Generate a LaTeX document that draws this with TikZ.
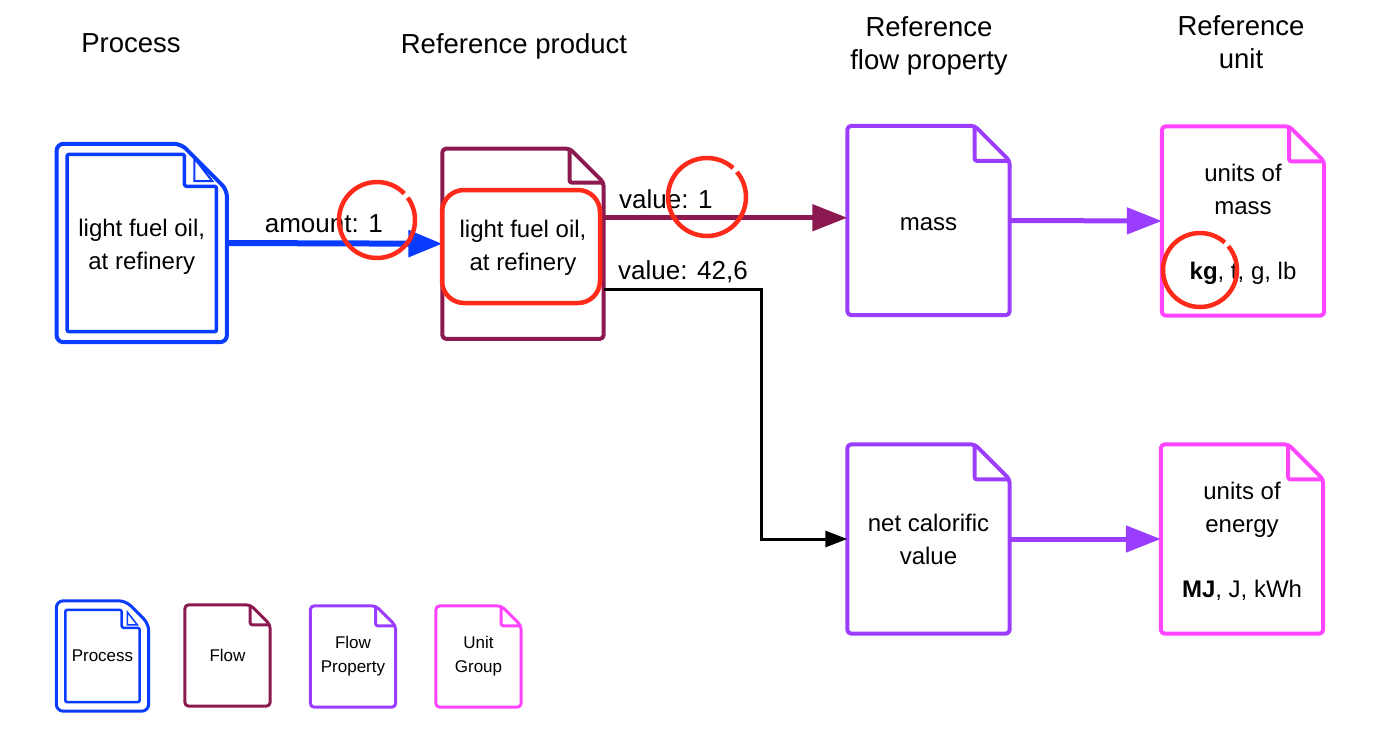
\documentclass[tikz,border=0pt]{standalone}
\usepackage{fontspec}
\setmainfont{Liberation Sans}
\usetikzlibrary{arrows.meta}

\definecolor{procblue}{HTML}{0A3CFF}
\definecolor{flowred}{HTML}{8C1A50}
\definecolor{propviolet}{HTML}{9B3DFF}
\definecolor{unitpink}{HTML}{FF45FF}
\definecolor{markred}{HTML}{FF2A1A}

\tikzset{
  page/.style={minimum width=162pt, minimum height=189pt, inner sep=0pt, align=center,
    font=\fontsize{24}{33}\selectfont},
  mini/.style={minimum width=85pt, minimum height=101pt, inner sep=0pt, align=center,
    font=\fontsize{17}{24}\selectfont},
  head/.style={align=center, font=\fontsize{27.5}{33}\selectfont},
  lbl/.style={inner sep=0pt, font=\fontsize{26}{30}\selectfont, text=black},
  redmark/.style={markred, line width=4.5pt},
}
% lowers the text of a page a little
\newcommand{\lift}[1]{\rule{0pt}{#1}}

% document outline round a node: node, colour, fold, line width
\newcommand{\docpage}[4]{%
  \draw[#2, line width=#4, rounded corners=4pt]
    (#1.north west) -- ([xshift=-#3]#1.north east) -- ([yshift=-#3]#1.north east)
    -- (#1.south east) -- (#1.south west) -- cycle;
  \draw[#2, line width=#4, rounded corners=2pt]
    ([xshift=-#3]#1.north east) -- ([xshift=-#3,yshift=-#3]#1.north east) -- ([yshift=-#3]#1.north east);
}
% double outline of a process: node, fold, inset, notch, outer width, inner width
\newcommand{\procpage}[6]{%
  \draw[procblue, line width=#5, rounded corners=7pt]
    (#1.north west) -- ([xshift=-#2pt]#1.north east) -- ([yshift=-#2pt]#1.north east)
    -- (#1.south east) -- (#1.south west) -- cycle;
  \draw[procblue, line width=#6, rounded corners=2pt]
    ([xshift=#3pt,yshift=-#3pt]#1.north west) -- ([xshift=-#3pt-#4pt,yshift=-#3pt]#1.north east)
    -- ([xshift=-#3pt-#4pt,yshift=-#3pt-#4pt]#1.north east) -- ([xshift=-#3pt,yshift=-#3pt-#4pt]#1.north east)
    -- ([xshift=-#3pt,yshift=#3pt]#1.south east) -- ([xshift=#3pt,yshift=#3pt]#1.south west) -- cycle;
  \draw[procblue, line width=0.6*#6, line join=miter]
    ([xshift=-#3pt-0.69*#4pt,yshift=-#3pt-0.12*#4pt]#1.north east)
    -- ([xshift=-#3pt-0.69*#4pt,yshift=-#3pt-0.84*#4pt]#1.north east)
    -- ([xshift=-#3pt-0.13*#4pt,yshift=-#3pt-0.84*#4pt]#1.north east) -- cycle;
}

\begin{document}
\begin{tikzpicture}[x=1pt, y=-1pt, line join=round]
\useasboundingbox (0,0) rectangle (1384,734);
% column heads
\node[head] (hproc) at (131,43) {Process};
\node[head] (hprod) at (514,46) {Reference product};
\node[head] (hprop) at (929,45.5) {Reference\\flow property};
\node[head] (hunit) at (1241,42.6) {Reference\\unit};
% documents
\node[page, minimum width=170pt, minimum height=198pt] (proc) at (141.75,243) {\lift{24.5pt}light fuel oil,\\at refinery};
\node[page, minimum width=161pt, minimum height=190pt] (prod) at (523,243.75) {\lift{24.5pt}light fuel oil,\\at refinery};
\node[page] (mass) at (928.5,220.5) {\lift{20.5pt}mass};
\node[page] (umass) at (1243,221) {\lift{23.5pt}units of\\mass\\[32pt]\textbf{kg}, t, g, lb};
\node[page] (ncv) at (928.5,539) {net calorific\\value};
\node[page] (uenergy) at (1242,539) {\lift{21.5pt}units of\\energy\\[32pt]\textbf{MJ}, J, kWh};
\procpage{proc}{46}{10.5}{32}{4pt}{3.5pt}
\docpage{prod}{flowred}{34pt}{4pt}
\docpage{mass}{propviolet}{35pt}{4pt}
\docpage{ncv}{propviolet}{35pt}{4pt}
\docpage{umass}{unitpink}{35pt}{4pt}
\docpage{uenergy}{unitpink}{35pt}{4pt}
% connectors
\draw[procblue, line width=6pt, -{Triangle[length=34pt,width=26pt]}] (proc.east) -- (prod.west)
  node[lbl, anchor=base, pos=0.45, yshift=11pt] {amount: 1};
\coordinate (vout) at ([yshift=26pt]prod.east);
\coordinate (cout) at ([yshift=-46pt]prod.east);
\draw[flowred, line width=5pt, -{Triangle[length=35pt,width=26pt]}] (vout) -- (vout -| mass.west)
  node[lbl, anchor=base west, pos=0, xshift=13pt, yshift=9pt] {value: 1};
\draw[line width=3pt, line join=miter, -{Triangle[length=22pt,width=16pt]}] (cout)
  node[lbl, anchor=base west, xshift=13pt, yshift=10pt] {value: 42,6}
  -| ([xshift=-85.5pt]ncv.west) |- (ncv.west);
\draw[propviolet, line width=5pt, -{Triangle[length=35pt,width=26pt]}] (mass.east) -- (umass.west);
\draw[propviolet, line width=5pt, -{Triangle[length=35pt,width=26pt]}] (ncv.east) -- (uenergy.west);
% legend
\node[mini, minimum width=92pt, minimum height=110pt] (lproc) at (102.5,656) {Process};
\node[mini] (lflow) at (227.5,655.5) {Flow};
\node[mini] (lprop) at (353,656.5) {Flow\\Property};
\node[mini] (lunit) at (478.5,656.5) {Unit\\Group};
\procpage{lproc}{23}{9}{18}{3pt}{2.5pt}
\docpage{lflow}{flowred}{20pt}{3pt}
\docpage{lprop}{propviolet}{20pt}{3pt}
\docpage{lunit}{unitpink}{20pt}{3pt}
% red marks
\draw[redmark, rounded corners=22pt] (442,190) rectangle (600,303);
\draw[redmark] (377,220) ++(-36:38) arc[start angle=-36, end angle=316, radius=38];
\draw[redmark] (707,197) ++(-40:39) arc[start angle=-40, end angle=312, radius=39];
\draw[redmark] (1200,270) ++(-40:37) arc[start angle=-40, end angle=312, radius=37];
\end{tikzpicture}
\end{document}
